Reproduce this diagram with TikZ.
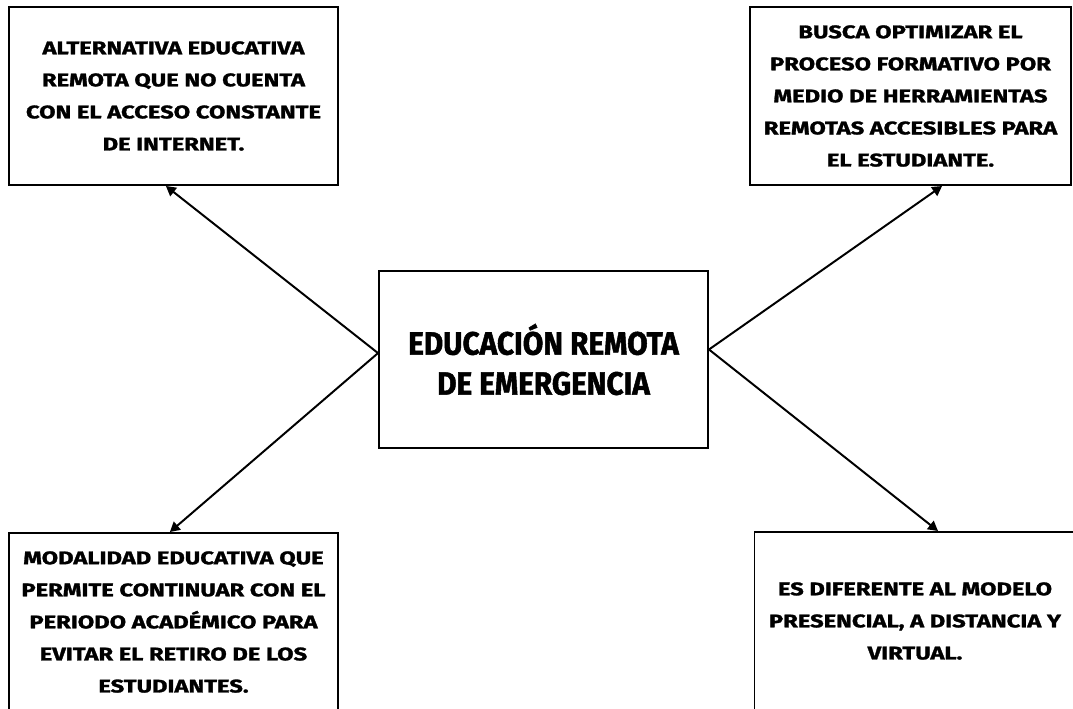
\documentclass[tikz,border=0pt]{standalone}
\usepackage{fontspec}
\setmainfont{Fira Sans}
\newfontfamily\smallblock{Fira Sans}[FakeStretch=1.3, BoldFeatures={FakeBold=1.5}]
\newfontfamily\bigblock{Fira Sans}[FakeStretch=0.92, BoldFeatures={FakeBold=1.5}]
\usepackage{tikz}
\usetikzlibrary{arrows.meta}

\begin{document}
\begin{tikzpicture}[
    box/.style={draw, line width=1.4pt, minimum width=8.225cm, minimum height=4.45cm,
        align=center, font=\smallblock\bfseries\fontsize{13}{22.8}\selectfont},
    link/.style={-{Triangle[length=7pt,width=7.5pt]}, line width=1.4pt}
]
    \useasboundingbox (0,0) rectangle (26.825,-17.7);

    % Central idea
    \node[box, minimum height=4.425cm, font=\bigblock\bfseries\fontsize{23}{28.5}\selectfont]
        (edu) at (13.5875,-8.9875) {EDUCACIÓN REMOTA\\DE EMERGENCIA};

    % Four descriptions
    \node[box] (alt) at (4.3375,-2.4) {ALTERNATIVA EDUCATIVA\\REMOTA QUE NO CUENTA\\CON EL ACCESO CONSTANTE\\DE INTERNET.};
    \node[box, minimum width=8.025cm] (busca) at (22.7625,-2.4) {BUSCA OPTIMIZAR EL\\PROCESO FORMATIVO POR\\MEDIO DE HERRAMIENTAS\\REMOTAS ACCESIBLES PARA\\EL ESTUDIANTE.};
    \node[box] (modal) at (4.3375,-15.55) {MODALIDAD EDUCATIVA QUE\\PERMITE CONTINUAR CON EL\\PERIODO ACADÉMICO PARA\\EVITAR EL RETIRO DE LOS\\ESTUDIANTES.};
    \node[box, minimum width=8.025cm] (difer) at (22.875,-15.525) {ES DIFERENTE AL MODELO\\PRESENCIAL, A DISTANCIA Y\\VIRTUAL.};

    % Arrows out of the center
    \draw[link] ([yshift=0.16cm]edu.west) -- ([xshift=-0.19cm]alt.south);
    \draw[link] ([yshift=0.16cm]edu.west) -- ([xshift=-0.09cm]modal.north);
    \draw[link] ([yshift=0.25cm]edu.east) -- ([xshift=0.79cm]busca.south);
    \draw[link] ([yshift=0.25cm]edu.east) -- ([xshift=0.575cm]difer.north);
\end{tikzpicture}
\end{document}
